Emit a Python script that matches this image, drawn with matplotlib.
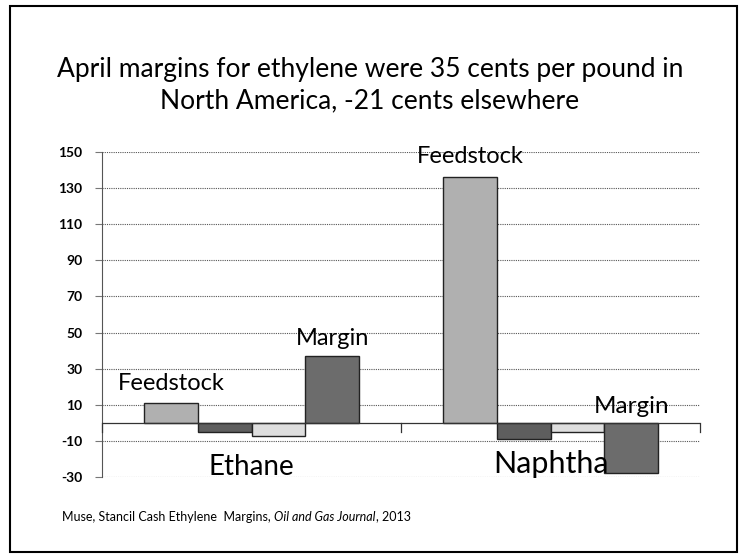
import matplotlib
matplotlib.use("Agg")
import matplotlib.pyplot as plt
import numpy as np
from matplotlib.patches import Rectangle

categories = ["Ethane", "Naphtha"]
feedstock = [11, 136]
series2 = [-5, -9]
series3 = [-7, -5]
margin = [37, -28]
yticks = list(range(-30, 151, 20))

plt.rcParams['font.family'] = ['Lato', 'DejaVu Sans']

fig = plt.figure(figsize=(7.4, 5.55), dpi=100)
fig.patches.append(Rectangle((0.014, 0.006), 0.982, 0.984, transform=fig.transFigure,
                             fill=False, edgecolor='black', linewidth=1.5))

ax = fig.add_axes([0.138, 0.1405, 0.808, 0.5855])
x = np.arange(len(categories))
w = 0.18
series = [feedstock, series2, series3, margin]
colors = ['#b0b0b0', '#5e5e5e', '#dedede', '#6c6c6c']
offsets = [-1.5, -0.5, 0.5, 1.5]
for vals, c, o in zip(series, colors, offsets):
    ax.bar(x + o * w, vals, width=w, color=c, edgecolor='#222222', linewidth=1.0, zorder=3)

ax.set_xlim(-0.5, 1.5)
ax.set_ylim(-30, 150)
ax.set_yticks(yticks)
ax.set_yticklabels([str(t) for t in yticks], fontsize=10, fontweight='bold')
ax.set_xticks([])
ax.grid(axis='y', linestyle=(0, (1, 1)), color='#555555', linewidth=0.8, zorder=0)
for s in ['top', 'right', 'bottom']:
    ax.spines[s].set_visible(False)
ax.spines['left'].set_color('#555555')
ax.spines['left'].set_linestyle((0, (2, 1)))
ax.tick_params(axis='y', length=5, width=0.8, color='#777777', pad=9)
ax.axhline(0, color='#333333', linewidth=0.9, zorder=4)
for xb in [-0.5, 0.5, 1.5]:
    ax.plot([xb, xb], [0, -5], color='#333333', linewidth=0.9, zorder=4, clip_on=False)

# series labels
ax.text(x[0] - 1.5 * w, feedstock[0] + 7, "Feedstock", ha='center', va='baseline', fontsize=17, zorder=5)
ax.text(x[0] + 1.5 * w, margin[0] + 6, "Margin", ha='center', va='baseline', fontsize=17, zorder=5)
ax.text(x[1] - 1.5 * w, feedstock[1] + 8, "Feedstock", ha='center', va='baseline', fontsize=17, zorder=5)
ax.text(x[1] + 1.5 * w, 5.5, "Margin", ha='center', va='baseline', fontsize=17.5, zorder=5)

# category labels
ax.text(x[0], -28.8, categories[0], ha='center', va='baseline', fontsize=20, zorder=5)
ax.text(x[1], -28.0, categories[1], ha='center', va='baseline', fontsize=22, zorder=5)

fig.text(0.5, 0.874, "April margins for ethylene were 35 cents per pound in",
         ha='center', va='center', fontsize=19)
fig.text(0.5, 0.818, "North America, -21 cents elsewhere",
         ha='center', va='center', fontsize=19)

t1 = fig.text(0.084, 0.062, "Muse, Stancil Cash Ethylene  Margins, ", fontsize=9, va='baseline')
t2 = ax.annotate("Oil and Gas Journal", xy=(1, 0), xycoords=t1, fontsize=9, style='italic',
                 va='bottom', annotation_clip=False)
t3 = ax.annotate(", 2013", xy=(1, 0), xycoords=t2, fontsize=9, va='bottom', annotation_clip=False)

fig.savefig("out.png", dpi=100)
